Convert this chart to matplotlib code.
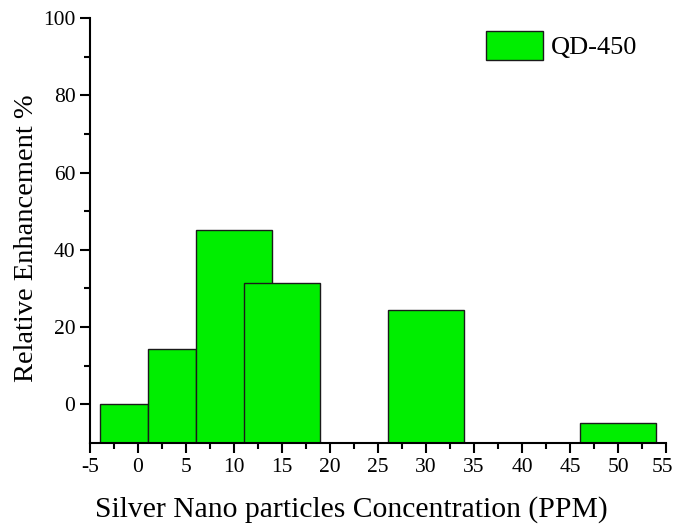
import matplotlib.pyplot as plt
import matplotlib.transforms as mtransforms

# bar left/right edges (PPM) and heights (%)
left_edges = [-4, 1, 6, 11, 26, 46]
right_edges = [1, 6, 14, 19, 34, 54]
enhancement = [0, 14.2, 45.2, 31.3, 24.5, -4.9]
series_name = 'QD-450'
xtick_vals = list(range(-5, 56, 5))
xtick_labels = [str(v) for v in xtick_vals]

plt.rcParams['font.family'] = ['Liberation Serif', 'DejaVu Serif']
plt.rcParams['axes.unicode_minus'] = False

fig = plt.figure(figsize=(6.75, 5.29), dpi=100)
ax = fig.add_axes([0.1333, 0.1626, 0.8534, 0.8034])

ymin = -10
centers = [(l + r) / 2 for l, r in zip(left_edges, right_edges)]
widths = [r - l for l, r in zip(left_edges, right_edges)]
heights = [v - ymin for v in enhancement]
ax.bar(centers, heights, width=widths, bottom=ymin, color='#00ee00',
       edgecolor='#1a1a1a', linewidth=1.0, label=series_name)

ax.set_xlim(-5, 55)
ax.set_ylim(-10, 100)
ax.set_xticks(xtick_vals, xtick_labels)
ax.set_xticks([x + 2.5 for x in range(-5, 55, 5)], minor=True)
ax.set_yticks(range(0, 101, 20))
ax.set_yticks(range(10, 100, 20), minor=True)

for s in ['top', 'right']:
    ax.spines[s].set_visible(False)
for s in ['left', 'bottom']:
    ax.spines[s].set_linewidth(1.5)

ax.tick_params(which='major', direction='out', length=7, width=1.5, labelsize=15.5)
ax.tick_params(which='minor', direction='out', length=4, width=1.5)

# keep the last tick label inside the picture
last = ax.get_xticklabels()[-1]
last.set_transform(last.get_transform() +
                   mtransforms.ScaledTranslation(-4 / 100, 0, fig.dpi_scale_trans))

fig.text(351 / 675, 1 - 510 / 529, 'Silver Nano particles Concentration (PPM)',
         fontsize=21.3, ha='center', va='center')
fig.text(27 / 675, 1 - 238 / 529, 'Relative Enhancement %',
         fontsize=20.5, rotation=90, ha='center', va='center')

ax.legend(loc='upper left', bbox_to_anchor=(486 / 675, 1 - 31 / 529),
          bbox_transform=fig.transFigure, frameon=False, borderpad=0,
          borderaxespad=0, fontsize=19, handlelength=2.15, handleheight=1.3,
          handletextpad=0.3)

fig.savefig('out.png', dpi=100)
